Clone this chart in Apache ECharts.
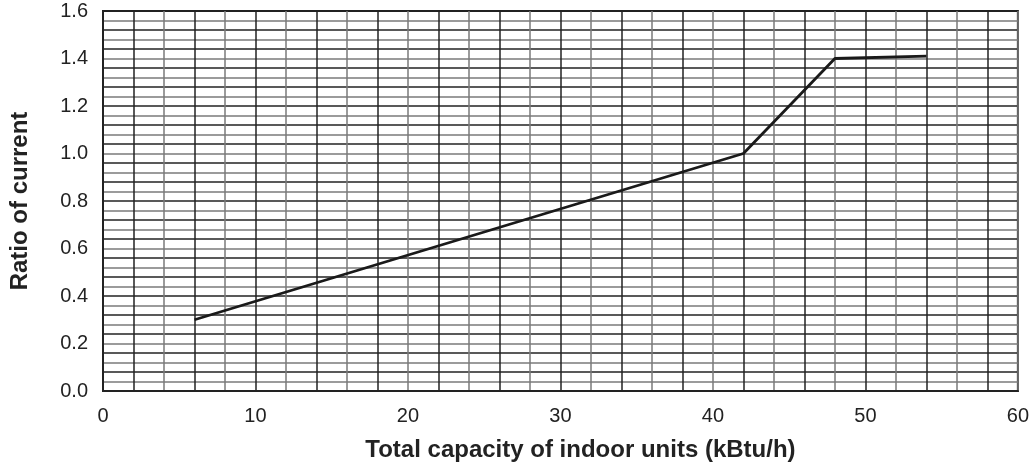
<!DOCTYPE html>
<html>
<head>
<meta charset="utf-8">
<script src="https://cdn.jsdelivr.net/npm/echarts@6/dist/echarts.min.js"></script>
<style>
html,body{margin:0;padding:0;background:#fff;}
#chart{width:1032px;height:467px;}
</style>
</head>
<body>
<div id="chart"></div>
<script>
// Data
const capacity = [6, 42, 48, 54];          // kBtu/h
const ratio = [0.30, 1.00, 1.40, 1.41];     // ratio of current
const xTickLabels = [0, 10, 20, 30, 40, 50, 60];
const yTickLabels = [0.0, 0.2, 0.4, 0.6, 0.8, 1.0, 1.2, 1.4, 1.6];
const xTitle = 'Total capacity of indoor units (kBtu/h)';
const yTitle = 'Ratio of current';

const seriesData = capacity.map((c, i) => [c, ratio[i]]);
const isLabel = (v, list) => list.some(t => Math.abs(t - v) < 1e-6);

const chart = echarts.init(document.getElementById('chart'), null, {renderer: 'canvas'});
const font = 'Liberation Sans, Arial, Helvetica, sans-serif';
chart.setOption({
  animation: false,
  backgroundColor: '#fff',
  grid: {left: 103, right: 14, top: 11, bottom: 76, show: true, borderColor: '#222', borderWidth: 2, containLabel: false},
  xAxis: {
    type: 'value', min: 0, max: 60, interval: 2,
    name: xTitle, nameLocation: 'middle', nameGap: 47,
    nameTextStyle: {fontFamily: font, fontSize: 24, fontWeight: 'bold', color: '#222', padding: [0, 0, 0, 40]},
    axisLine: {show: true, lineStyle: {color: '#222', width: 2}},
    axisTick: {show: false},
    axisLabel: {fontFamily: font, fontSize: 20, color: '#222', margin: 15,
      formatter: v => isLabel(v, xTickLabels) ? String(Math.round(v)) : ''},
    splitLine: {show: true, lineStyle: {color: ['#7a7a7a', '#222'], width: 1.5}}
  },
  yAxis: {
    type: 'value', min: 0, max: 1.6, interval: 0.04,
    name: yTitle, nameLocation: 'middle', nameGap: 71, nameRotate: 90,
    nameTextStyle: {fontFamily: font, fontSize: 24, fontWeight: 'bold', color: '#222'},
    axisLine: {show: true, lineStyle: {color: '#222', width: 2}},
    axisTick: {show: false},
    axisLabel: {fontFamily: font, fontSize: 20, color: '#222', margin: 15,
      formatter: v => isLabel(v, yTickLabels) ? v.toFixed(1) : ''},
    splitLine: {show: true, lineStyle: {color: ['#222', '#7a7a7a'], width: 1.5}}
  },
  series: [{
    type: 'line', data: seriesData, showSymbol: false, symbol: 'none',
    lineStyle: {color: '#1a1a1a', width: 2.8}, z: 5
  }]
});
</script>
</body>
</html>
